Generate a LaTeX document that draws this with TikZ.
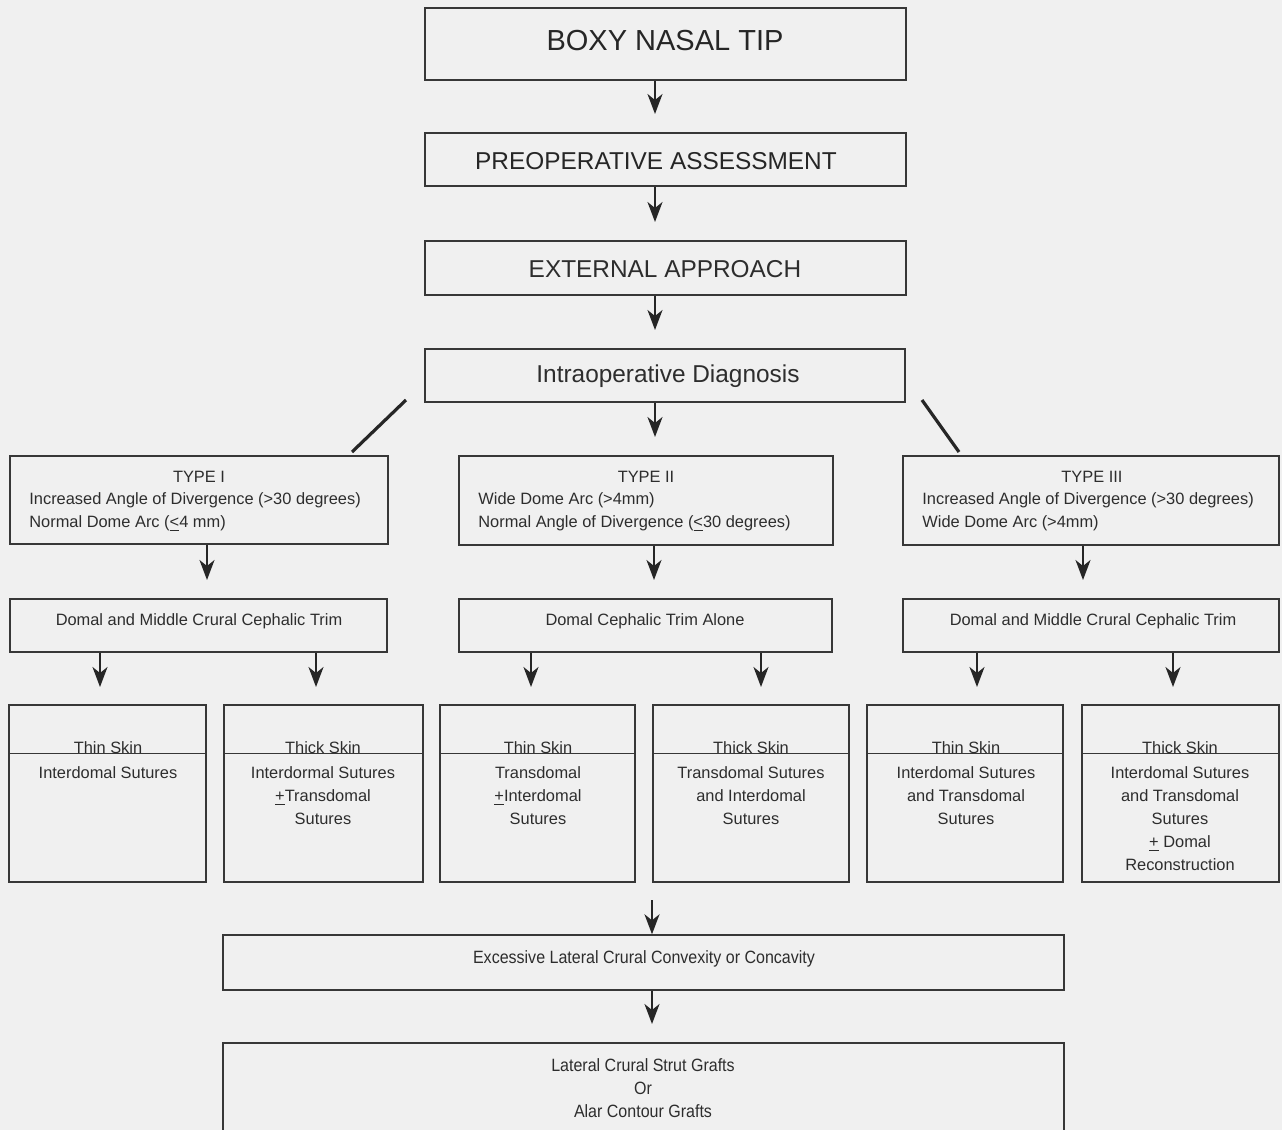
\documentclass[tikz,border=0pt]{standalone}
\usepackage{fontspec}
\setmainfont{Liberation Sans}
\newfontfamily\narrowf[FakeStretch=0.9]{Liberation Sans}
\usetikzlibrary{arrows.meta,fit}
\definecolor{bg}{RGB}{240,240,240}
\definecolor{ink}{RGB}{45,45,45}
\definecolor{edge}{RGB}{55,55,55}
\tikzset{
  bx/.style={draw=edge, line width=0.7pt, inner sep=0pt},
  bigbx/.style={draw=edge, line width=1.2pt, inner sep=0pt},
  arr/.style={draw=black!85, line width=1pt, -{Stealth[length=10pt,width=7.5pt,inset=3pt]}},
  diag/.style={draw=black!85, line width=1.6pt},
  txt/.style={inner sep=0pt, text=ink, font=\fontsize{8.2}{11.5}\selectfont},
  ntxt/.style={inner sep=0pt, text=ink, font=\narrowf\fontsize{8.9}{11.5}\selectfont, align=center},
}
\begin{document}
\begin{tikzpicture}[x=0.5pt,y=-0.5pt]
\fill[bg] (0,0) rectangle (1282,1130);
\useasboundingbox (0,0) rectangle (1282,1130);

% top chain
\node[bigbx, fit={(425,8)(906,80)}] (boxy) {};
\node[inner sep=0pt, text=black!85, font=\fontsize{14.5}{16}\selectfont] (boxyt) at (665,41) {BOXY NASAL TIP};
\node[bx, fit={(425,133)(906,186)}] (pre) {};
\node[inner sep=0pt, text=black!85, font=\fontsize{12.2}{14}\selectfont] (pret) at (656,161) {PREOPERATIVE ASSESSMENT};
\node[bx, fit={(425,241)(906,295)}] (ext) {};
\node[inner sep=0pt, text=ink, font=\fontsize{12.2}{14}\selectfont] (extt) at (665,269) {EXTERNAL APPROACH};
\node[bx, fit={(425,349)(905,402)}] (intra) {};
\node[inner sep=0pt, text=ink, font=\fontsize{12.2}{14}\selectfont] (intrat) at (668,376) {Intraoperative Diagnosis};

\coordinate (a1e) at (655,114);
\coordinate (a2e) at (655,222);
\coordinate (a3e) at (655,330);
\coordinate (a4e) at (655,437);
\draw[arr] (boxy.south -| a1e) -- (a1e);
\draw[arr] (pre.south -| a2e) -- (a2e);
\draw[arr] (ext.south -| a3e) -- (a3e);
\draw[arr] (intra.south -| a4e) -- (a4e);

% type boxes
\node[bx, fit={(10,456)(388,544)}] (t1) {};
\node[bx, fit={(459,456)(833,545)}] (t2) {};
\node[bx, fit={(903,456)(1279,545)}] (t3) {};

\coordinate (dl1) at (406,400);
\coordinate (dl2) at (352,452);
\coordinate (dr1) at (922,400);
\coordinate (dr2) at (959,452);
\draw[diag] (dl1) -- (dl2);
\draw[diag] (dr1) -- (dr2);

\node[txt] (t1a) at (199,477) {TYPE I};
\node[txt, anchor=west, align=left] (t1b) at (29,512) {Increased Angle of Divergence (>30 degrees)\\Normal Dome Arc (\underline{<}4 mm)};
\node[txt] (t2a) at (646,477) {TYPE II};
\node[txt, anchor=west, align=left] (t2b) at (478,512) {Wide Dome Arc (>4mm)\\Normal Angle of Divergence (\underline{<}30 degrees)};
\node[txt] (t3a) at (1092,477) {TYPE III};
\node[txt, anchor=west, align=left] (t3b) at (922,512) {Increased Angle of Divergence (>30 degrees)\\Wide Dome Arc (>4mm)};

% trims
\node[bx, fit={(10,599)(387,652)}] (c1) {};
\node[bx, fit={(459,599)(832,652)}] (c2) {};
\node[bx, fit={(903,599)(1279,652)}] (c3) {};
\node[txt] (c1t) at (199,621) {Domal and Middle Crural Cephalic Trim};
\node[txt] (c2t) at (645,621) {Domal Cephalic Trim Alone};
\node[txt] (c3t) at (1093,621) {Domal and Middle Crural Cephalic Trim};

\coordinate (b1e) at (207,580);
\coordinate (b2e) at (654,580);
\coordinate (b3e) at (1083,580);
\draw[arr] (t1.south -| b1e) -- (b1e);
\draw[arr] (t2.south -| b2e) -- (b2e);
\draw[arr] (t3.south -| b3e) -- (b3e);

% skin boxes
\node[bx, fit={(9,705)(206,882)}] (s1) {};
\node[bx, fit={(224,705)(423,882)}] (s2) {};
\node[bx, fit={(440,705)(635,882)}] (s3) {};
\node[bx, fit={(653,705)(849,882)}] (s4) {};
\node[bx, fit={(867,705)(1063,882)}] (s5) {};
\node[bx, fit={(1082,705)(1279,882)}] (s6) {};
\foreach \s in {s1,s2,s3,s4,s5,s6}{
  \draw[draw=edge, line width=0.7pt] ([yshift=-24.5pt]\s.north west) -- ([yshift=-24.5pt]\s.north east);
}
\coordinate (k1e) at (100,687);
\coordinate (k2e) at (316,687);
\coordinate (k3e) at (531,687);
\coordinate (k4e) at (761,687);
\coordinate (k5e) at (977,687);
\coordinate (k6e) at (1173,687);
\draw[arr] (c1.south -| k1e) -- (k1e);
\draw[arr] (c1.south -| k2e) -- (k2e);
\draw[arr] (c2.south -| k3e) -- (k3e);
\draw[arr] (c2.south -| k4e) -- (k4e);
\draw[arr] (c3.south -| k5e) -- (k5e);
\draw[arr] (c3.south -| k6e) -- (k6e);

\node[txt] (h1) at (108,748) {Thin Skin};
\node[txt] (h2) at (323,748) {Thick Skin};
\node[txt] (h3) at (538,748) {Thin Skin};
\node[txt] (h4) at (751,748) {Thick Skin};
\node[txt] (h5) at (966,748) {Thin Skin};
\node[txt] (h6) at (1180,748) {Thick Skin};

\node[txt, align=center] (m1) at (108,773) {Interdomal Sutures};
\node[txt, align=center] (m2) at (323,796) {Interdormal Sutures\\\underline{+}Transdomal\\Sutures};
\node[txt, align=center] (m3) at (538,796) {Transdomal\\\underline{+}Interdomal\\Sutures};
\node[txt, align=center] (m4) at (751,796) {Transdomal Sutures\\and Interdomal\\Sutures};
\node[txt, align=center] (m5) at (966,796) {Interdomal Sutures\\and Transdomal\\Sutures};
\node[txt, align=center] (m6) at (1180,819) {Interdomal Sutures\\and Transdomal\\Sutures\\\underline{+} Domal\\Reconstruction};

% bottom
\coordinate (x0) at (652,900);
\node[bx, fit={(223,935)(1064,990)}] (ex) {};
\node[ntxt] (ext2) at (644,959) {Excessive Lateral Crural Convexity or Concavity};
\draw[arr] (x0) -- (ex.north -| x0);
\node[bx, fit={(223,1043)(1064,1136)}] (gr) {};
\node[ntxt] (grt) at (643,1088) {Lateral Crural Strut Grafts\\Or\\Alar Contour Grafts};
\coordinate (y0) at (652,1024);
\draw[arr] (ex.south -| y0) -- (y0);
\end{tikzpicture}
\end{document}
